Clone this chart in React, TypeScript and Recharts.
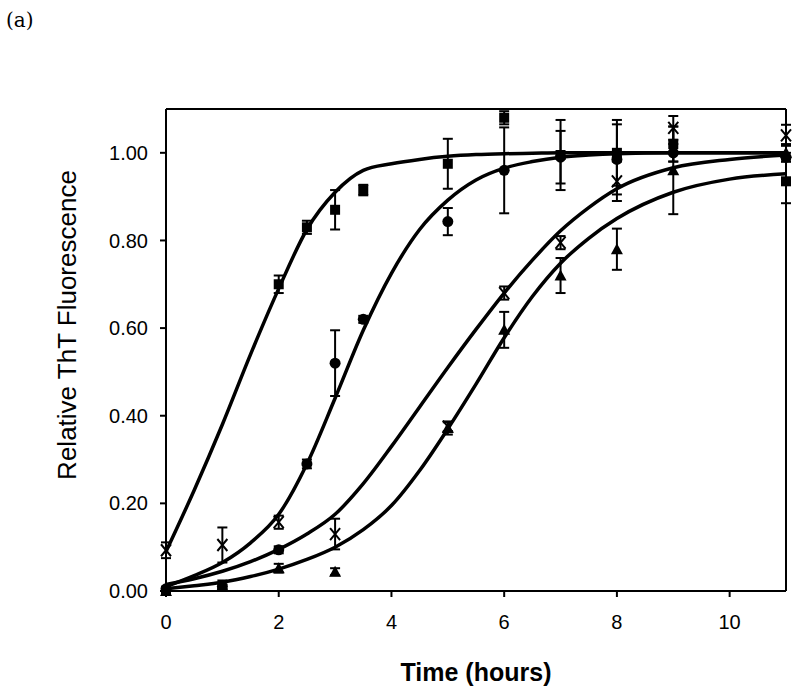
import {
  ComposedChart,
  Line,
  Scatter,
  ErrorBar,
  XAxis,
  YAxis,
  ReferenceLine,
} from 'recharts'

// measured points (time in hours)
const sqX = [0, 2, 2.5, 3, 3.5, 5, 6, 7, 8, 9, 11]
const sqY = [0.0, 0.7, 0.83, 0.87, 0.915, 0.975, 1.08, 0.995, 1.0, 1.02, 0.935]
const sqErr = [0, 0.02, 0.015, 0.045, 0.012, 0.057, 0.015, 0.08, 0.075, 0.04, 0.05]

const ciX = [0, 1, 2, 2.5, 3, 3.5, 5, 6, 7, 8, 9, 11]
const ciY = [0.005, 0.01, 0.094, 0.29, 0.52, 0.62, 0.843, 0.96, 0.99, 0.985, 1.0, 0.99]
const ciErr = [0.005, 0.005, 0.008, 0.01, 0.075, 0.008, 0.031, 0.098, 0.06, 0.08, 0.02, 0.01]

const xmX = [0, 1, 2, 3, 5, 6, 7, 8, 9, 11]
const xmY = [0.093, 0.105, 0.157, 0.13, 0.375, 0.68, 0.795, 0.935, 1.057, 1.04]
const xmErr = [0.018, 0.04, 0.015, 0.035, 0.01, 0.015, 0.015, 0.045, 0.027, 0.024]

const trX = [0, 1, 2, 3, 5, 6, 7, 8, 9, 11]
const trY = [0.0, 0.012, 0.052, 0.044, 0.372, 0.596, 0.72, 0.78, 0.96, 1.0]
const trErr = [0, 0.012, 0.01, 0.008, 0.015, 0.041, 0.04, 0.047, 0.1, 0.02]

// fitted curves
const fitX = [0, 0.5, 1, 1.5, 2, 2.5, 3, 3.5, 4, 4.5, 5, 5.5, 6, 6.5, 7, 7.5, 8, 9, 10, 11]
const fitSq = [0.09, 0.23, 0.38, 0.54, 0.69, 0.825, 0.91, 0.96, 0.975, 0.985, 0.992, 0.996, 0.998, 0.999, 1, 1, 1, 1, 1, 1]
const fitCi = [0.01, 0.035, 0.065, 0.11, 0.175, 0.29, 0.44, 0.595, 0.725, 0.825, 0.892, 0.938, 0.965, 0.98, 0.99, 0.995, 0.998, 1, 1, 1]
const fitXm = [0.015, 0.028, 0.045, 0.067, 0.095, 0.13, 0.175, 0.245, 0.33, 0.42, 0.51, 0.597, 0.68, 0.755, 0.822, 0.875, 0.918, 0.966, 0.985, 0.995]
const fitTr = [0.005, 0.012, 0.02, 0.033, 0.05, 0.072, 0.1, 0.14, 0.195, 0.275, 0.37, 0.472, 0.578, 0.672, 0.748, 0.805, 0.85, 0.91, 0.94, 0.952]

const xTicks = [0, 2, 4, 6, 8, 10]
const yTicks = [0, 0.2, 0.4, 0.6, 0.8, 1.0]

const pts = (xs: number[], ys: number[], errs: number[]) =>
  xs.map((x, i) => ({ x, y: ys[i], err: errs[i] }))
const curve = (ys: number[]) => fitX.map((x, i) => ({ x, y: ys[i] }))

const FONT = '"Liberation Sans", Arial, sans-serif'

const SquareDot = (p: any) => (
  <rect x={p.cx - 5} y={p.cy - 5} width={10} height={10} fill="#000" />
)
const CircleDot = (p: any) => <circle cx={p.cx} cy={p.cy} r={5.5} fill="#000" />
const TriangleDot = (p: any) => (
  <polygon
    points={`${p.cx},${p.cy - 6} ${p.cx + 6},${p.cy + 5} ${p.cx - 6},${p.cy + 5}`}
    fill="#000"
  />
)
const CrossDot = (p: any) => (
  <path
    d={`M${p.cx - 5},${p.cy - 6}L${p.cx + 5},${p.cy + 6}M${p.cx + 5},${p.cy - 6}L${p.cx - 5},${p.cy + 6}`}
    stroke="#000"
    strokeWidth={2}
  />
)

const tickStyle = { fontSize: 20, fontFamily: FONT, fill: '#000' }

export default function App() {
  const series = [
    { data: pts(sqX, sqY, sqErr), shape: SquareDot },
    { data: pts(ciX, ciY, ciErr), shape: CircleDot },
    { data: pts(xmX, xmY, xmErr), shape: CrossDot },
    { data: pts(trX, trY, trErr), shape: TriangleDot },
  ]
  const fits = [fitSq, fitCi, fitXm, fitTr]

  return (
    <div style={{ position: 'absolute', left: 0, top: 0, width: 800, height: 695, background: '#fff' }}>
      <div style={{ position: 'absolute', left: 6, top: 8, fontFamily: '"DejaVu Serif", serif', fontSize: 20 }}>
        (a)
      </div>
      <ComposedChart
        width={800}
        height={695}
        margin={{ top: 109, right: 14, left: 0, bottom: 24 }}
      >
        <XAxis
          type="number"
          dataKey="x"
          domain={[0, 11]}
          ticks={xTicks}
          height={80}
          tick={tickStyle}
          tickSize={6}
          tickMargin={18}
          axisLine={{ stroke: '#000', strokeWidth: 2 }}
          tickLine={{ stroke: '#000', strokeWidth: 2 }}
        />
        <YAxis
          type="number"
          domain={[0, 1.1]}
          ticks={yTicks}
          width={166}
          tick={tickStyle}
          tickSize={6}
          tickMargin={12}
          tickFormatter={(v: number) => v.toFixed(2)}
          axisLine={{ stroke: '#000', strokeWidth: 2 }}
          tickLine={{ stroke: '#000', strokeWidth: 2 }}
        />
        <ReferenceLine y={1.1} stroke="#000" strokeWidth={2} />
        <ReferenceLine x={11} stroke="#000" strokeWidth={2} />
        {fits.map((f, i) => (
          <Line
            key={`fit-${i}`}
            data={curve(f)}
            dataKey="y"
            type="monotone"
            stroke="#000"
            strokeWidth={3.5}
            dot={false}
            activeDot={false}
            isAnimationActive={false}
          />
        ))}
        {series.map((s, i) => (
          <Scatter
            key={`pts-${i}`}
            data={s.data}
            dataKey="y"
            shape={s.shape}
            isAnimationActive={false}
          >
            <ErrorBar dataKey="err" direction="y" width={5} stroke="#000" strokeWidth={2} />
          </Scatter>
        ))}
      </ComposedChart>
      <div
        style={{
          position: 'absolute',
          left: 67,
          top: 325,
          transform: 'translate(-50%, -50%) rotate(-90deg)',
          whiteSpace: 'nowrap',
          fontFamily: FONT,
          fontSize: 26,
        }}
      >
        Relative ThT Fluorescence
      </div>
      <div
        style={{
          position: 'absolute',
          left: 476,
          top: 672,
          transform: 'translate(-50%, -50%)',
          whiteSpace: 'nowrap',
          fontFamily: FONT,
          fontSize: 25,
          fontWeight: 'bold',
        }}
      >
        Time (hours)
      </div>
    </div>
  )
}
